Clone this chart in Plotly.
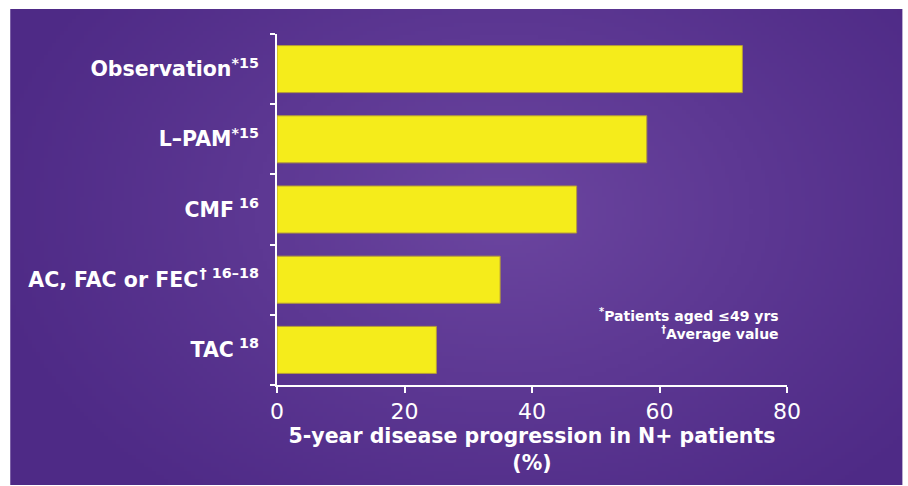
import base64, struct, zlib
import numpy as np
import plotly.graph_objects as go

categories = ["Observation<sup>*15</sup>", "L\u2013PAM<sup>*15</sup>", "CMF<sup> 16</sup>",
              "AC, FAC or FEC<sup>\u200a\u2020 16\u201318</sup>", "TAC<sup> 18</sup>"]
values = [73, 58, 47, 35, 25]
x_ticks = [0, 20, 40, 60, 80]
x_title = "5-year disease progression in N+ patients<br>(%)"
footnote = "<sup>*</sup>Patients aged \u226449 yrs<br><sup>\u2020</sup>Average value"

W, H = 908, 486
L, R, T, B = 277, 120.5, 34, 101
pw, ph = W - L - R, H - T - B


def gradient_png(w, h):
    yy, xx = np.mgrid[0:h, 0:w]
    cx, cy = 0.55 * w, 0.42 * h
    d = np.sqrt(((xx - cx) / (0.6 * w)) ** 2 + ((yy - cy) / (0.8 * h)) ** 2)
    f = np.clip(1 - d, 0, 1) ** 1.1
    edge = np.array([78, 42, 134])
    center = np.array([108, 70, 160])
    img = edge[None, None, :] + (center - edge)[None, None, :] * f[:, :, None]
    img = img.astype(np.uint8)
    raw = b"".join(b"\x00" + img[r].tobytes() for r in range(h))

    def chunk(tag, data):
        c = struct.pack(">I", len(data)) + tag + data
        return c + struct.pack(">I", zlib.crc32(tag + data) & 0xffffffff)

    png = b"\x89PNG\r\n\x1a\n" + chunk(b"IHDR", struct.pack(">IIBBBBB", w, h, 8, 2, 0, 0, 0))
    png += chunk(b"IDAT", zlib.compress(raw, 9)) + chunk(b"IEND", b"")
    return "data:image/png;base64," + base64.b64encode(png).decode()


bg_x0, bg_x1, bg_y0, bg_y1 = 10, 903, 9, 485
px = lambda x: (x - L) / pw
py = lambda y: (H - B - y) / ph

fig = go.Figure(go.Bar(
    x=values, y=categories, orientation="h",
    marker=dict(color="#f5ec1b", line=dict(color="#b59a3a", width=1)),
    width=0.67,
))

fig.update_layout(
    width=W, height=H,
    margin=dict(l=L, r=R, t=T, b=B, autoexpand=False),
    paper_bgcolor="white", plot_bgcolor="rgba(0,0,0,0)",
    showlegend=False,
    images=[dict(source=gradient_png(224, 120), xref="paper", yref="paper",
                 x=px(bg_x0), y=py(bg_y0), sizex=px(bg_x1) - px(bg_x0), sizey=py(bg_y0) - py(bg_y1),
                 xanchor="left", yanchor="top", sizing="stretch", layer="below")],
    font=dict(family="DejaVu Sans", color="white"),
)

fig.update_xaxes(
    range=[0, 80], tickvals=x_ticks, ticktext=[str(v) for v in x_ticks],
    showgrid=False, zeroline=False, showline=True, linecolor="white", linewidth=2,
    ticks="outside", ticklen=6, tickwidth=2, tickcolor="white",
    tickfont=dict(size=22, color="white"),
    title=dict(text=x_title, font=dict(size=20.5, color="white", family="DejaVu Sans, sans-serif", weight="bold"), standoff=2),
    automargin=False,
)
fig.update_yaxes(
    categoryorder="array", categoryarray=categories[::-1],
    showgrid=False, zeroline=False, showline=True, linecolor="white", linewidth=2,
    ticks="outside", ticklen=5, tickwidth=2, tickcolor="white", tickson="boundaries",
    tickfont=dict(size=20.5, color="white", weight="bold"),
    ticklabelstandoff=12,
    automargin=False,
)

fig.add_annotation(
    text=footnote, xref="paper", yref="paper", x=px(781), y=py(304),
    xanchor="right", yanchor="top", align="right", showarrow=False,
    font=dict(size=14, color="white", weight="bold"),
)

fig.write_html("out.html")
